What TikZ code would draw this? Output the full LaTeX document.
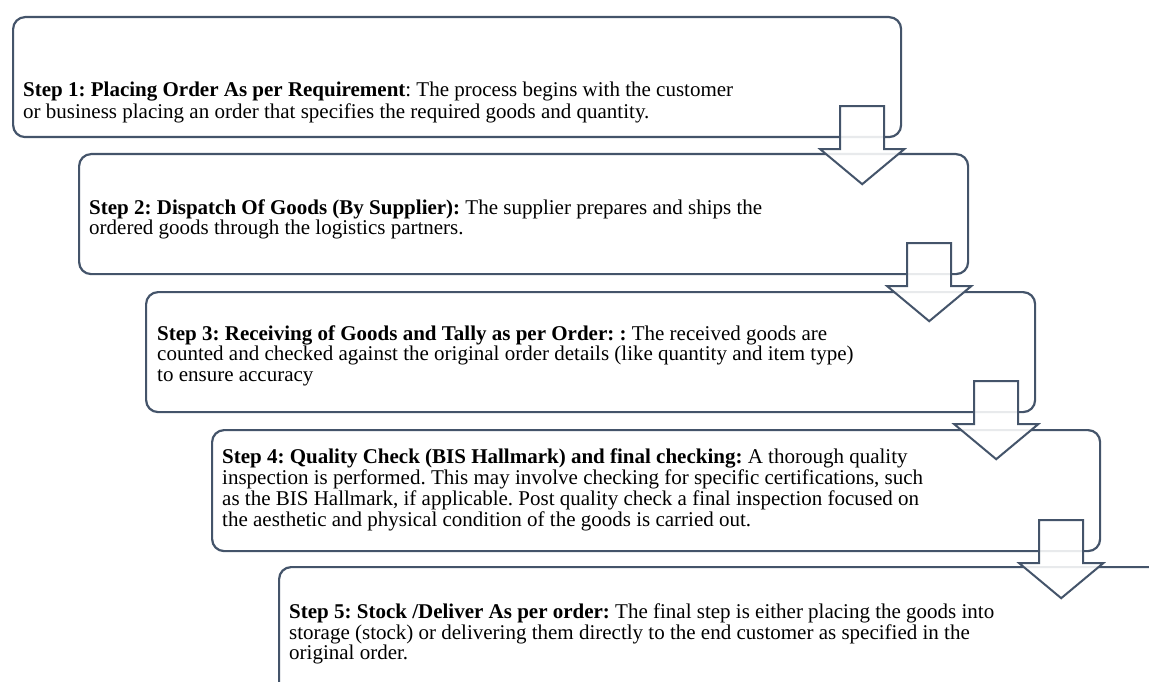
\documentclass[tikz,border=0pt]{standalone}
\usepackage{fontspec}
\setmainfont{Liberation Serif}
\usetikzlibrary{calc}
\definecolor{boxline}{HTML}{44546A}
\frenchspacing
\tikzset{
  stepbox/.style={draw=boxline, line width=2.2pt, rounded corners=12pt, fill=white, inner sep=0pt, anchor=north west},
  blockarrow/.style={draw=boxline, line width=2pt, fill=white, fill opacity=0.88, line join=miter},
  steptext/.style={anchor=base west, inner sep=0pt}
}
\newcommand{\steplines}[2]{{\fontsize{#1}{20.8}\selectfont\frenchspacing\begin{tabular}[t]{@{}l@{}}#2\end{tabular}}}
\newcommand{\flowarrow}[1]{%
  \draw[blockarrow] ($(#1.south east)+(-62,-32)$) -- ($(#1.south east)+(-18,-32)$)
    -- ($(#1.south east)+(-18,11)$) -- ($(#1.south east)+(2,11)$)
    -- ($(#1.south east)+(-40,46)$) -- ($(#1.south east)+(-82,11)$)
    -- ($(#1.south east)+(-62,11)$) -- cycle;}
\begin{document}
\begin{tikzpicture}[x=1pt,y=-1pt]
\useasboundingbox (0,0) rectangle (1149,682);
\clip (0,0) rectangle (1149,682);
% boxes
\node[stepbox, minimum width=888pt, minimum height=120pt] (box1) at (12,16) {};
\node[stepbox, minimum width=889pt, minimum height=120pt] (box2) at (78,153) {};
\node[stepbox, minimum width=889pt, minimum height=120pt] (box3) at (145,291) {};
\node[stepbox, minimum width=888pt, minimum height=121pt] (box4) at (211,429) {};
\node[stepbox, minimum width=900pt, minimum height=140pt] (box5) at (278,566) {};
% texts
\node[steptext] (t1) at (23,97) {\steplines{21}{\textbf{Step 1: Placing Order As per Requirement}: The process begins with the customer\\or business placing an order that specifies the required goods and quantity.}};
\node[steptext] (t2) at (89,214) {\steplines{21}{\textbf{Step 2: Dispatch Of Goods (By Supplier):} The supplier prepares and ships the\\ordered goods through the logistics partners.}};
\node[steptext] (t3) at (157,340) {\steplines{21}{\textbf{Step 3: Receiving of Goods and Tally as per Order: :} The received goods are\\counted and checked against the original order details (like quantity and item type)\\to ensure accuracy}};
\node[steptext] (t4) at (222,463) {\steplines{21}{\textbf{Step 4: Quality Check (BIS Hallmark) and final checking:} A thorough quality\\inspection is performed. This may involve checking for specific certifications, such\\as the BIS Hallmark, if applicable. Post quality check a final inspection focused on\\the aesthetic and physical condition of the goods is carried out.}};
\node[steptext] (t5) at (289,618) {\steplines{21}{\textbf{Step 5: Stock /Deliver As per order:} The final step is either placing the goods into\\storage (stock) or delivering them directly to the end customer as specified in the\\original order.}};
% arrows
\flowarrow{box1}
\flowarrow{box2}
\flowarrow{box3}
\flowarrow{box4}
\end{tikzpicture}
\end{document}
